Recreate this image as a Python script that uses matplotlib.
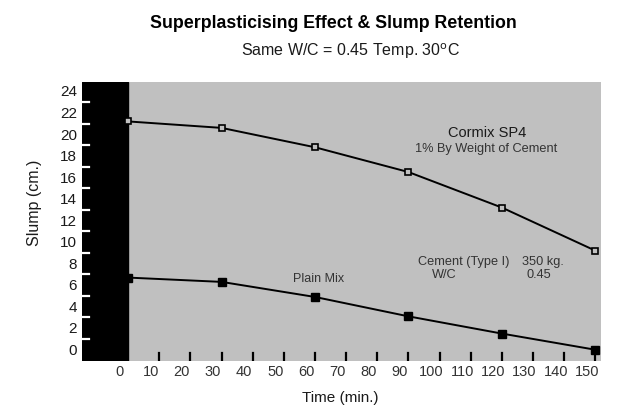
import numpy as np
import matplotlib
matplotlib.use('Agg')
import matplotlib.pyplot as plt
from matplotlib.transforms import ScaledTranslation, blended_transform_factory

# 数据：时间 (min) 与坍落度 (cm)
time_min = [0, 30, 60, 90, 120, 150]
slump_sp4 = [22.2, 21.6, 19.8, 17.5, 14.2, 10.2]
slump_plain = [7.7, 7.3, 5.9, 4.1, 2.5, 1.0]

x_ticks = list(range(0, 151, 10))
y_ticks = list(range(0, 25, 2))

plt.rcParams['font.family'] = ['Liberation Sans', 'DejaVu Sans']
TXT = '#1a1a1a'
ANN = '#333333'

fig = plt.figure(figsize=(6.17, 4.08), dpi=100)
ax = fig.add_axes([0.1329, 0.1164, 0.8411, 0.6826])
ax.set_facecolor('#c0c0c0')
ax.set_xlim(-14.8, 151.8)
ax.set_ylim(0, 25.86)

# 左侧黑色区域
ax.axvspan(-14.8, 0, color='black', zorder=1)

ax.plot(time_min, slump_sp4, color='black', lw=1.4, marker='s', ms=5,
        mfc='#c0c0c0', mec='black', mew=1.2, zorder=3, clip_on=False)
ax.plot(time_min, slump_plain, color='black', lw=1.4, marker='s', ms=6,
        mfc='black', mec='black', zorder=3, clip_on=False)

for s in ax.spines.values():
    s.set_visible(False)
ax.set_xticks([])
ax.set_yticks([])

# 刻度线（向内）与错位的刻度标签
trans_x = blended_transform_factory(ax.transData, ax.transAxes)
trans_y = blended_transform_factory(ax.transAxes, ax.transData)
for t in x_ticks:
    if t > 0:
        ax.plot([t, t], [0, 8 / 279], transform=trans_x, color='black',
                lw=1.6, zorder=4)
    off = ScaledTranslation(-8.5 / fig.dpi, -11 / fig.dpi, fig.dpi_scale_trans)
    ax.text(t, 0, str(t), transform=trans_x + off, ha='center', va='center',
            fontsize=10.5, color=ANN,
            family=['Liberation Sans Narrow', 'Liberation Sans'])
for v in y_ticks:
    if v > 0:
        ax.plot([0, 7.5 / 519], [v, v], transform=trans_y, color='white',
                lw=1.6, zorder=4)
    off = ScaledTranslation(-5 / fig.dpi, 9.6 / fig.dpi, fig.dpi_scale_trans)
    ax.text(0, v, str(v), transform=trans_y + off, ha='right', va='center',
            fontsize=11, color=TXT)

# 注释文字
ax.text(115.3, 21.1, 'Cormix SP4', ha='center', va='center', fontsize=10.5, color=TXT)
ax.text(114.8, 19.6, '1% By Weight of Cement', ha='center', va='center',
        fontsize=9.2, color=ANN)
ax.text(93.2, 9.12, 'Cement (Type I)', ha='left', va='center', fontsize=9.2,
        color=ANN)
ax.text(126.6, 9.12, '350 kg.', ha='left', va='center', fontsize=9.2, color=ANN)
ax.text(97.7, 7.94, 'W/C', ha='left', va='center', fontsize=9.2, color=ANN)
ax.text(127.9, 7.94, '0.45', ha='left', va='center', fontsize=9.2, color=ANN)
ax.text(61.1, 7.57, 'Plain Mix', ha='center', va='center', fontsize=9, color=ANN)

# 标题与坐标轴标题
fig.text(333 / 617, 1 - 23 / 408, 'Superplasticising Effect & Slump Retention',
         ha='center', va='center', fontsize=12.8, fontweight='bold', color='black')
fig.text(351 / 617, 1 - 51 / 408, 'Same W/C = 0.45 Temp. 30$^{\\rm o}$C',
         ha='center', va='center', fontsize=11.5, color=TXT)
fig.text(35 / 617, 1 - 203 / 408, 'Slump (cm.)', rotation=90, ha='center',
         va='center', fontsize=11.5, color=TXT)
fig.text(340 / 617, 1 - 398 / 408, 'Time (min.)', ha='center', va='center',
         fontsize=11, color=TXT)

fig.savefig('out.png', dpi=100)
